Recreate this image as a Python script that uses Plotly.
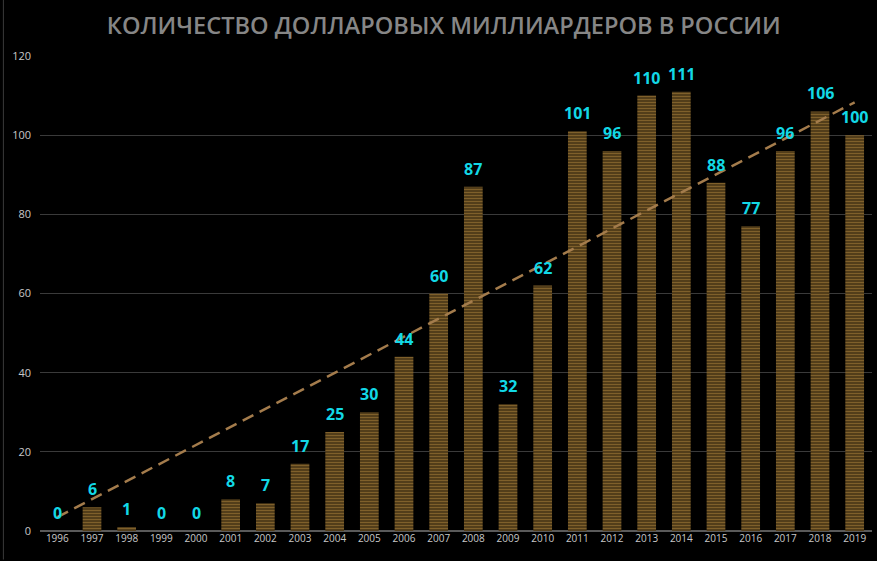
import plotly.graph_objects as go

years = [str(y) for y in range(1996, 2020)]
billionaires = [0, 6, 1, 0, 0, 8, 7, 17, 25, 30, 44, 60, 87, 32, 62, 101, 96, 110, 111, 88, 77, 96, 106, 100]
trend_years = ["1996", "2019"]
trend_values = [3.5, 108.3]

title_text = "КОЛИЧЕСТВО ДОЛЛАРОВЫХ МИЛЛИАРДЕРОВ В РОССИИ"

fig = go.Figure()
fig.add_trace(go.Bar(
    x=years, y=billionaires,
    width=0.54,
    marker=dict(
        color="#3a2a10",
        line=dict(width=0),
        pattern=dict(shape="-", fgcolor="#bf9444", bgcolor="#3e2d12", size=3, solidity=0.55),
    ),
    hoverinfo="x+y",
))
fig.add_trace(go.Scatter(
    x=trend_years, y=trend_values, mode="lines",
    line=dict(color="#a47c4c", width=2.5, dash="12px,7px"),
    hoverinfo="skip",
))

for i, v in enumerate(billionaires):
    fig.add_annotation(
        x=i, y=v, text=str(v), showarrow=False, yanchor="bottom", yshift=5,
        font=dict(color="#12d8e6", size=16, family="Open Sans", weight="bold"),
    )

fig.update_layout(
    width=877, height=561,
    paper_bgcolor="#000000", plot_bgcolor="#000000",
    margin=dict(l=40, r=5, t=56, b=30),
    showlegend=False,
    title=dict(text=title_text, x=0.506, xanchor="center", y=0.955, yanchor="middle",
               font=dict(family="Open Sans", size=23.6, color="#868686", weight=600)),
    xaxis=dict(
        type="category", categoryorder="array", categoryarray=years, range=[-0.5, len(years) - 0.5],
        showgrid=False, tickfont=dict(color="#c8c8c8", size=10, family="Open Sans"),
        ticks="", showline=False, zeroline=False,
    ),
    yaxis=dict(
        range=[0, 120], dtick=20, showgrid=True, gridcolor="#3a3a3a", gridwidth=1,
        tickfont=dict(color="#c8c8c8", size=11, family="Open Sans"),
        zeroline=True, zerolinecolor="#5a5a5a", zerolinewidth=2,
        ticklabelstandoff=8,
    ),
)

fig.add_shape(type="line", xref="paper", yref="paper", x0=-0.044, x1=-0.044, y0=-0.06, y1=1.12,
              line=dict(color="#3a3a3a", width=1))

fig.write_html("out.html")
